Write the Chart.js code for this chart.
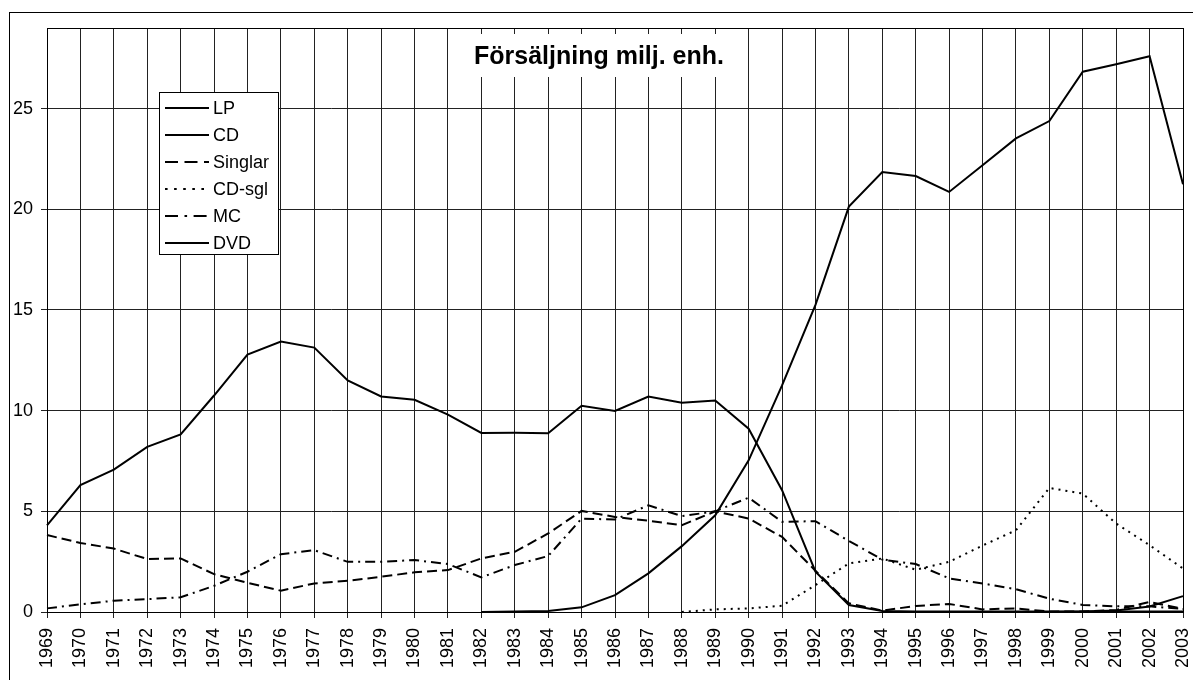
<!DOCTYPE html>
<html>
<head>
<meta charset="utf-8">
<script src="https://cdn.jsdelivr.net/npm/chart.js@4"></script>
<style>
  html, body { margin: 0; padding: 0; background: #fff; }
  canvas { display: block; }
</style>
</head>
<body>
<canvas id="salesChart" width="1193" height="680"></canvas>
<script>
// Försäljning milj. enh. (million units sold per year)
var years = ['1969', '1970', '1971', '1972', '1973', '1974', '1975', '1976', '1977', '1978',
             '1979', '1980', '1981', '1982', '1983', '1984', '1985', '1986', '1987', '1988',
             '1989', '1990', '1991', '1992', '1993', '1994', '1995', '1996', '1997', '1998',
             '1999', '2000', '2001', '2002', '2003'];

var lpSales = [4.3, 6.3, 7.07, 8.2, 8.82, 10.75, 12.78, 13.43, 13.13, 11.5,
               10.7, 10.54, 9.8, 8.89, 8.9, 8.88, 10.24, 9.98, 10.7, 10.39,
               10.5, 9.1, 6.05, 2.0, 0.35, 0.05, 0.03, 0.03, 0.02, 0.02,
               0.02, 0.02, 0.02, 0.02, 0.02];

var cdSales = [null, null, null, null, null, null, null, null, null, null,
               null, null, null, 0.0, 0.03, 0.05, 0.23, 0.84, 1.92, 3.27,
               4.8, 7.53, 11.25, 15.25, 20.13, 21.85, 21.65, 20.86, 22.18, 23.52,
               24.38, 26.83, 27.2, 27.6, 21.24];

var singlarSales = [3.82, 3.43, 3.15, 2.63, 2.66, 1.88, 1.45, 1.06, 1.42, 1.55,
                    1.75, 1.97, 2.08, 2.66, 2.99, 3.9, 5.02, 4.72, 4.53, 4.31,
                    5.0, 4.64, 3.73, 2.05, 0.43, 0.07, 0.3, 0.4, 0.13, 0.18,
                    0.02, 0.02, 0.1, 0.5, 0.15];

var cdSglSales = [null, null, null, null, null, null, null, null, null, null,
                  null, null, null, null, null, null, null, null, null, 0.0,
                  0.13, 0.18, 0.31, 1.34, 2.41, 2.66, 2.1, 2.49, 3.3, 4.06,
                  6.16, 5.88, 4.39, 3.32, 2.16];

var mcSales = [0.18, 0.38, 0.56, 0.64, 0.73, 1.3, 2.0, 2.87, 3.07, 2.49,
               2.49, 2.58, 2.38, 1.72, 2.33, 2.78, 4.64, 4.59, 5.3, 4.76,
               5.0, 5.68, 4.48, 4.51, 3.53, 2.6, 2.38, 1.67, 1.42, 1.13,
               0.66, 0.35, 0.28, 0.28, 0.15];

var dvdSales = [null, null, null, null, null, null, null, null, null, null,
                null, null, null, null, null, null, null, null, null, null,
                null, null, null, null, null, null, null, null, null, 0.0,
                0.0, 0.02, 0.08, 0.27, 0.79];

var yTicks = [0, 5, 10, 15, 20, 25];

var FONT = '"Liberation Sans", Arial, sans-serif';

function lineSet(label, data, dash) {
    return {
        label: label,
        data: data,
        borderColor: '#000',
        backgroundColor: '#000',
        borderWidth: 2,
        borderDash: dash,
        pointRadius: 0,
        tension: 0,
        fill: false,
        spanGaps: false
    };
}

// frame round the whole picture, plot border, title box and legend box
var decorations = {
    id: 'decorations',
    beforeDatasetsDraw: function(chart) {
        var ctx = chart.ctx;
        var area = chart.chartArea;
        ctx.save();
        ctx.strokeStyle = '#000';
        ctx.lineWidth = 1;
        ctx.strokeRect(Math.round(area.left) + 0.5, Math.round(area.top) + 0.5,
                       Math.round(area.right - area.left), Math.round(area.bottom - area.top));

        // title on a white patch over the grid
        ctx.fillStyle = '#fff';
        ctx.fillRect(448, 34, 299, 43);
        ctx.fillStyle = '#000';
        ctx.font = 'bold 25px ' + FONT;
        ctx.textAlign = 'center';
        ctx.textBaseline = 'alphabetic';
        ctx.fillText('Försäljning milj. enh.', 599, 64);
        ctx.restore();
    },
    afterDatasetsDraw: function(chart) {
        var ctx = chart.ctx;
        ctx.save();
        // legend
        ctx.fillStyle = '#fff';
        ctx.fillRect(160, 93, 118, 161);
        ctx.strokeStyle = '#000';
        ctx.lineWidth = 1;
        ctx.strokeRect(159.5, 92.5, 119, 162);
        ctx.font = '18px ' + FONT;
        ctx.textAlign = 'left';
        ctx.textBaseline = 'middle';
        chart.data.datasets.forEach(function(ds, i) {
            var y = 108 + i * 27;
            ctx.beginPath();
            ctx.setLineDash((ds.borderDash || []).map(function(d) { return d * 1.3; }));
            ctx.lineWidth = 2;
            ctx.moveTo(165, y);
            ctx.lineTo(209, y);
            ctx.stroke();
            ctx.setLineDash([]);
            ctx.fillStyle = '#000';
            ctx.fillText(ds.label, 213, y + 1);
        });
        ctx.restore();
    },
    afterDraw: function(chart) {
        var ctx = chart.ctx;
        ctx.save();
        ctx.strokeStyle = '#000';
        ctx.lineWidth = 1;
        ctx.strokeRect(9.5, 12.5, 1300, 800);
        ctx.restore();
    }
};

var ctx = document.getElementById('salesChart').getContext('2d');
var salesChart = new Chart(ctx, {
    type: 'line',
    data: {
        labels: years,
        datasets: [
            lineSet('LP', lpSales, []),
            lineSet('CD', cdSales, []),
            lineSet('Singlar', singlarSales, [10, 5]),
            lineSet('CD-sgl', cdSglSales, [2, 5]),
            lineSet('MC', mcSales, [10, 5, 2, 5]),
            lineSet('DVD', dvdSales, [])
        ]
    },
    options: {
        responsive: false,
        animation: false,
        layout: {
            padding: { top: 28, right: 10, left: 0, bottom: 0 }
        },
        plugins: {
            legend: { display: false },
            title: { display: false },
            tooltip: { enabled: false }
        },
        scales: {
            x: {
                offset: false,
                grid: { color: '#222', lineWidth: 1, tickLength: 6 },
                border: { color: '#000' },
                ticks: {
                    autoSkip: false,
                    minRotation: 90,
                    maxRotation: 90,
                    padding: 10,
                    color: '#000',
                    font: { family: FONT, size: 18 }
                },
                afterFit: function(scale) {
                    scale.height = 68;
                    scale.paddingLeft = 0;
                    scale.paddingRight = 0;
                }
            },
            y: {
                min: 0,
                max: 29,
                grid: { color: '#222', lineWidth: 1, tickLength: 6 },
                border: { color: '#000' },
                ticks: {
                    stepSize: 5,
                    padding: 8,
                    color: '#000',
                    font: { family: FONT, size: 18 }
                },
                afterBuildTicks: function(scale) {
                    scale.ticks = yTicks.map(function(v) { return { value: v }; });
                },
                afterFit: function(scale) {
                    scale.width = 47;
                    scale.paddingTop = 0;
                    scale.paddingBottom = 0;
                }
            }
        }
    },
    plugins: [decorations]
});
</script>
</body>
</html>
